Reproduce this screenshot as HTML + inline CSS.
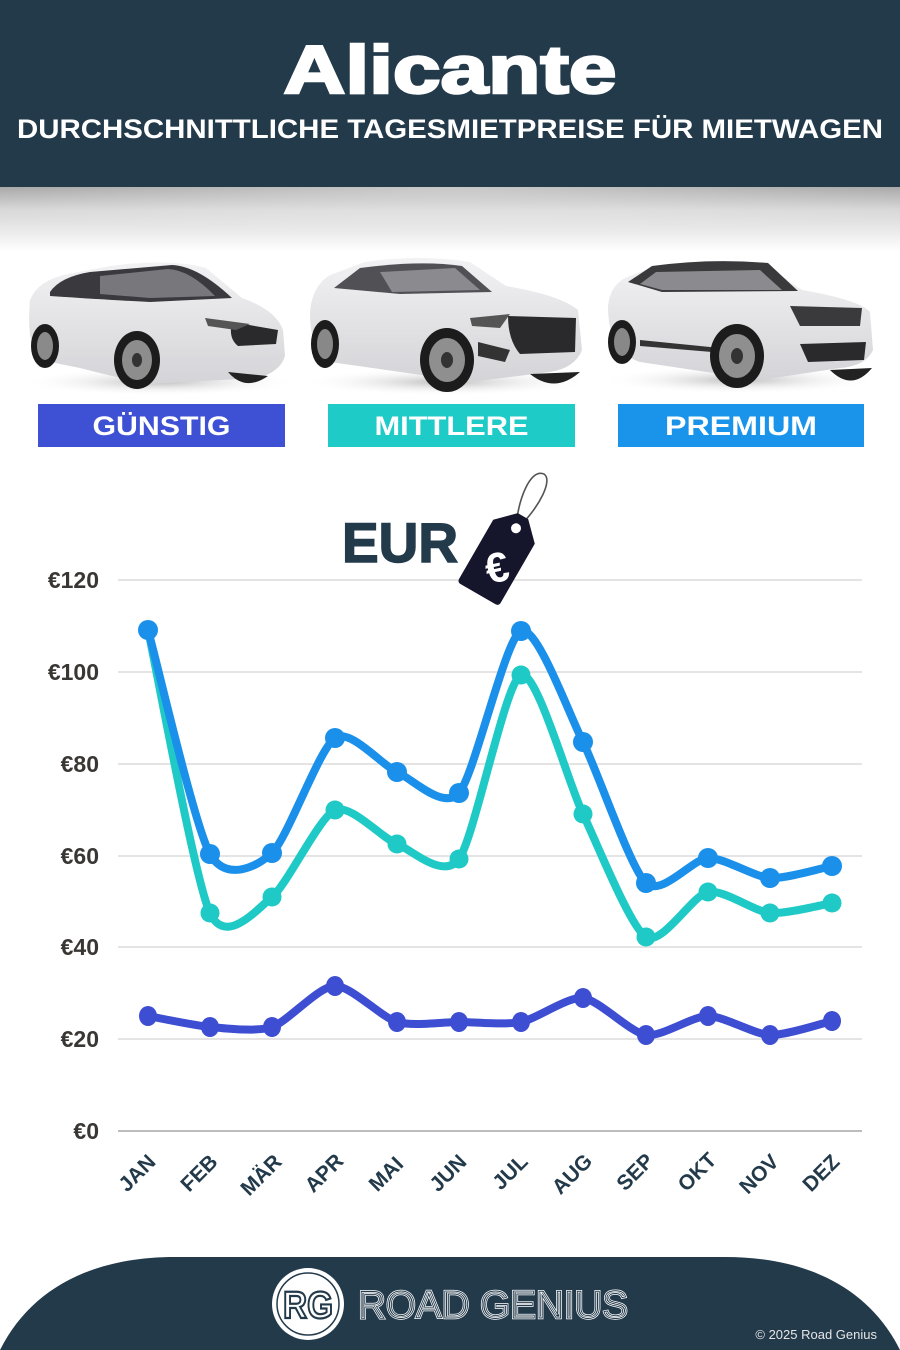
<!DOCTYPE html>
<html>
<head>
<meta charset="utf-8">
<style>
html,body{margin:0;padding:0;background:#fff;}
svg{display:block;}
text{font-family:"Liberation Sans",sans-serif;}
</style>
</head>
<body>
<svg width="900" height="1350" viewBox="0 0 900 1350" xmlns="http://www.w3.org/2000/svg">
<defs>
<linearGradient id="shadow" x1="0" y1="0" x2="0" y2="1">
<stop offset="0" stop-color="#9c9c9c"/>
<stop offset="0.35" stop-color="#d6d6d6"/>
<stop offset="1" stop-color="#ffffff"/>
</linearGradient>
<radialGradient id="shadowEdge" cx="0.5" cy="0" r="0.7">
<stop offset="0" stop-color="#ffffff" stop-opacity="0.45"/>
<stop offset="1" stop-color="#ffffff" stop-opacity="0"/>
</radialGradient>
<radialGradient id="ground" cx="0.5" cy="0.5" r="0.5">
<stop offset="0" stop-color="#bdbdbd"/>
<stop offset="1" stop-color="#ffffff" stop-opacity="0"/>
</radialGradient>
<linearGradient id="body" x1="0" y1="0" x2="0" y2="1">
<stop offset="0" stop-color="#f2f2f4"/>
<stop offset="1" stop-color="#d4d4d8"/>
</linearGradient>
</defs>

<!-- Header -->
<rect x="0" y="0" width="900" height="187" fill="#233a4b"/>
<rect x="0" y="187" width="900" height="65" fill="url(#shadow)"/>
<rect x="0" y="187" width="900" height="65" fill="url(#shadowEdge)"/>
<text x="450" y="93" text-anchor="middle" font-size="68" font-weight="bold" fill="#fff" stroke="#fff" stroke-width="2.5" textLength="333" lengthAdjust="spacingAndGlyphs">Alicante</text>
<text x="450" y="138" text-anchor="middle" font-size="27" font-weight="bold" fill="#fff" textLength="866" lengthAdjust="spacingAndGlyphs">DURCHSCHNITTLICHE TAGESMIETPREISE FÜR MIETWAGEN</text>

<!-- Car 1 -->
<ellipse cx="160" cy="382" rx="140" ry="14" fill="url(#ground)"/>
<path d="M30,300 Q38,280 68,274 L110,266 Q170,258 206,268 L242,298 Q276,310 283,330 L285,356 Q280,372 258,378 L150,384 Q118,378 80,368 L40,360 Q26,345 30,300 Z" fill="url(#body)"/>
<path d="M50,292 Q60,277 90,272 L172,265 Q198,266 232,298 L150,302 Q110,300 50,296 Z" fill="#3a3a3e"/>
<path d="M100,276 L168,269 Q190,270 215,296 L150,298 L100,294 Z" fill="#77777c"/>
<path d="M232,322 L278,330 L276,344 L238,346 Q228,338 232,322 Z" fill="#2a2a2c"/>
<path d="M205,318 L250,324 L236,330 L208,326 Z" fill="#555"/>
<ellipse cx="45" cy="346" rx="14" ry="22" fill="#1c1c1c"/>
<ellipse cx="45" cy="346" rx="8" ry="14" fill="#8a8a8a"/>
<ellipse cx="137" cy="360" rx="23" ry="29" fill="#1c1c1c"/>
<ellipse cx="137" cy="360" rx="15" ry="20" fill="#8d8d8d"/>
<ellipse cx="137" cy="360" rx="5" ry="7" fill="#333"/>
<path d="M228,372 Q245,392 268,376 Z" fill="#222"/>

<!-- Car 2 -->
<ellipse cx="445" cy="382" rx="145" ry="14" fill="url(#ground)"/>
<path d="M310,312 Q312,286 330,275 L365,262 Q420,254 470,262 L506,286 Q560,295 578,310 L582,350 Q575,368 550,372 L470,382 L330,362 Q310,352 310,312 Z" fill="url(#body)"/>
<path d="M334,288 L360,268 Q420,260 462,266 L492,292 L400,294 Z" fill="#505055"/>
<path d="M380,272 L455,268 L480,290 L392,292 Z" fill="#8a8a8f"/>
<path d="M508,316 L576,318 L575,352 L520,354 Q508,340 508,316 Z" fill="#2a2a2c"/>
<path d="M470,318 L510,314 L500,328 L472,326 Z" fill="#555"/>
<path d="M478,342 L510,350 L505,362 L478,356 Z" fill="#333"/>
<ellipse cx="325" cy="344" rx="14" ry="24" fill="#1c1c1c"/>
<ellipse cx="325" cy="344" rx="8" ry="15" fill="#888"/>
<ellipse cx="447" cy="360" rx="27" ry="32" fill="#1c1c1c"/>
<ellipse cx="447" cy="360" rx="18" ry="22" fill="#8f8f8f"/>
<ellipse cx="447" cy="360" rx="6" ry="8" fill="#333"/>
<path d="M530,374 Q555,394 580,372 Z" fill="#222"/>

<!-- Car 3 -->
<ellipse cx="740" cy="380" rx="140" ry="14" fill="url(#ground)"/>
<path d="M608,306 Q610,286 625,278 L650,268 Q710,260 765,265 L802,290 Q860,300 870,312 L873,350 Q866,366 840,368 L760,380 L640,362 Q608,352 608,306 Z" fill="url(#body)"/>
<path d="M628,282 L652,266 Q710,258 768,263 L798,291 L662,292 Z" fill="#3a3a3c"/>
<path d="M640,284 L656,272 L760,270 L782,290 L662,290 Z" fill="#8a8a8f"/>
<path d="M790,306 L862,308 L860,326 L800,326 Z" fill="#3a3a3c"/>
<path d="M800,344 L866,342 L864,360 L808,362 Z" fill="#2a2a2c"/>
<path d="M640,340 L760,352 L760,356 L640,346 Z" fill="#333"/>
<ellipse cx="622" cy="342" rx="14" ry="22" fill="#1c1c1c"/>
<ellipse cx="622" cy="342" rx="8" ry="14" fill="#888"/>
<ellipse cx="737" cy="356" rx="27" ry="32" fill="#1c1c1c"/>
<ellipse cx="737" cy="356" rx="18" ry="22" fill="#8f8f8f"/>
<ellipse cx="737" cy="356" rx="6" ry="8" fill="#333"/>
<path d="M830,370 Q852,392 872,368 Z" fill="#222"/>

<!-- Category buttons -->
<rect x="38" y="404" width="247" height="43" fill="#3e50d3"/>
<text x="161.5" y="435" text-anchor="middle" font-size="27" font-weight="bold" fill="#fff" textLength="138" lengthAdjust="spacingAndGlyphs">GÜNSTIG</text>
<rect x="328" y="404" width="247" height="43" fill="#1fcbc6"/>
<text x="451.5" y="435" text-anchor="middle" font-size="27" font-weight="bold" fill="#fff" textLength="154" lengthAdjust="spacingAndGlyphs">MITTLERE</text>
<rect x="618" y="404" width="246" height="43" fill="#1994ea"/>
<text x="741" y="435" text-anchor="middle" font-size="27" font-weight="bold" fill="#fff" textLength="152" lengthAdjust="spacingAndGlyphs">PREMIUM</text>

<!-- Gridlines -->
<g stroke="#dcdcdc" stroke-width="1.5">
<line x1="118" y1="580" x2="862" y2="580"/>
<line x1="118" y1="672" x2="862" y2="672"/>
<line x1="118" y1="764" x2="862" y2="764"/>
<line x1="118" y1="856" x2="862" y2="856"/>
<line x1="118" y1="947" x2="862" y2="947"/>
<line x1="118" y1="1039" x2="862" y2="1039"/>
</g>
<line x1="118" y1="1131" x2="862" y2="1131" stroke="#bdbdbd" stroke-width="2"/>

<!-- EUR label and tag -->
<text x="342" y="562" font-size="56" font-weight="bold" fill="#233a4b" stroke="#233a4b" stroke-width="1.5" textLength="116" lengthAdjust="spacingAndGlyphs">EUR</text>
<path d="M516,528 C518,500 530,468 544,474 C553,480 540,506 519,527" fill="none" stroke="#555" stroke-width="1.6"/>
<g transform="translate(500,556) rotate(30)">
<path d="M-24,40 Q-24,44 -20,44 L20,44 Q24,44 24,40 L24,-28 L6,-46 L-6,-46 L-24,-28 Z" fill="#15152b"/>
<circle cx="0" cy="-32" r="5" fill="#fff"/>
</g>
<text x="497" y="582" text-anchor="middle" font-size="42" font-weight="bold" fill="#fff" transform="rotate(-12 497 568)">€</text>

<!-- Y labels -->
<g font-size="23" font-weight="bold" fill="#3a3633" text-anchor="end">
<text x="99" y="588">€120</text>
<text x="99" y="680">€100</text>
<text x="99" y="772">€80</text>
<text x="99" y="864">€60</text>
<text x="99" y="955">€40</text>
<text x="99" y="1047">€20</text>
<text x="99" y="1139">€0</text>
</g>

<!-- Series: budget -->
<path d="M148,1016 C156,1017.4 194.5,1025.6 210,1027 C225.5,1028.4 256.5,1032.1 272,1027 C287.5,1021.9 319.5,985.4 335,986 C350.5,985.4 381.5,1017.5 397,1022 C412.5,1026.5 443.5,1022 459,1022 C474.5,1022 505.5,1025 521,1022 C536.5,1019 567.5,996.4 583,998 C598.5,999.6 630.5,1032.7 646,1035 C661.5,1037.3 692.5,1016 708,1016 C723.5,1016 754.5,1034.4 770,1035 C785.5,1035.6 824,1022.8 832,1021" fill="none" stroke="#3d4ed2" stroke-width="8" stroke-linecap="round"/>
<g fill="#3d4ed2">
<ellipse cx="148" cy="1016" rx="9" ry="10"/><ellipse cx="210" cy="1027" rx="9" ry="10"/><ellipse cx="272" cy="1027" rx="9" ry="10"/><ellipse cx="335" cy="986" rx="9" ry="10"/><ellipse cx="397" cy="1022" rx="9" ry="10"/><ellipse cx="459" cy="1022" rx="9" ry="10"/><ellipse cx="521" cy="1022" rx="9" ry="10"/><ellipse cx="583" cy="998" rx="9" ry="10"/><ellipse cx="646" cy="1035" rx="9" ry="10"/><ellipse cx="708" cy="1016" rx="9" ry="10"/><ellipse cx="770" cy="1035" rx="9" ry="10"/><ellipse cx="832" cy="1021" rx="9" ry="10"/>
</g>

<!-- Series: mid -->
<path d="M148,630 C156,665.4 194.5,879.6 210,913 C225.5,946.4 256.5,909.9 272,897 C287.5,884.1 319.5,816.6 335,810 C350.5,803.4 381.5,837.9 397,844 C412.5,850.1 443.5,880.1 459,859 C474.5,837.9 505.5,680.6 521,675 C536.5,669.4 567.5,781.2 583,814 C598.5,846.8 630.5,927.2 646,937 C661.5,946.8 692.5,895 708,892 C723.5,889 754.5,911.6 770,913 C785.5,914.4 824,904.3 832,903" fill="none" stroke="#1fcac6" stroke-width="8" stroke-linecap="round"/>
<g fill="#1fcac6">
<circle cx="210" cy="913" r="9.5"/><circle cx="272" cy="897" r="9.5"/><circle cx="335" cy="810" r="9.5"/><circle cx="397" cy="844" r="9.5"/><circle cx="459" cy="859" r="9.5"/><circle cx="521" cy="675" r="9.5"/><circle cx="583" cy="814" r="9.5"/><circle cx="646" cy="937" r="9.5"/><circle cx="708" cy="892" r="9.5"/><circle cx="770" cy="913" r="9.5"/><circle cx="832" cy="903" r="9.5"/>
</g>

<!-- Series: premium -->
<path d="M148,630 C156,658 194.5,826.1 210,854 C225.5,881.9 256.5,867.5 272,853 C287.5,838.5 319.5,748.1 335,738 C350.5,727.9 381.5,765.1 397,772 C412.5,778.9 443.5,810.6 459,793 C474.5,775.4 505.5,637.4 521,631 C536.5,624.6 567.5,710.5 583,742 C598.5,773.5 630.5,868.5 646,883 C661.5,897.5 692.5,858.6 708,858 C723.5,857.4 754.5,877 770,878 C785.5,879 824,867.5 832,866" fill="none" stroke="#1a90ea" stroke-width="8" stroke-linecap="round"/>
<g fill="#1a90ea">
<circle cx="148" cy="630" r="10"/><circle cx="210" cy="854" r="10"/><circle cx="272" cy="853" r="10"/><circle cx="335" cy="738" r="10"/><circle cx="397" cy="772" r="10"/><circle cx="459" cy="793" r="10"/><circle cx="521" cy="631" r="10"/><circle cx="583" cy="742" r="10"/><circle cx="646" cy="883" r="10"/><circle cx="708" cy="858" r="10"/><circle cx="770" cy="878" r="10"/><circle cx="832" cy="866" r="10"/>
</g>

<!-- X labels -->
<g font-size="21" font-weight="bold" fill="#233a4b" text-anchor="middle">
<text transform="translate(142,1178) rotate(-45)">JAN</text>
<text transform="translate(204,1178) rotate(-45)">FEB</text>
<text transform="translate(266,1180) rotate(-45)">MÄR</text>
<text transform="translate(329,1178) rotate(-45)">APR</text>
<text transform="translate(391,1179) rotate(-45)">MAI</text>
<text transform="translate(453,1178) rotate(-45)">JUN</text>
<text transform="translate(515,1177) rotate(-45)">JUL</text>
<text transform="translate(577,1179) rotate(-45)">AUG</text>
<text transform="translate(640,1177) rotate(-45)">SEP</text>
<text transform="translate(702,1177) rotate(-45)">OKT</text>
<text transform="translate(764,1179) rotate(-45)">NOV</text>
<text transform="translate(826,1178) rotate(-45)">DEZ</text>
</g>

<!-- Footer -->
<path d="M0,1350 C30,1290 90,1257 175,1257 L725,1257 C810,1257 870,1290 900,1350 Z" fill="#233a4b"/>
<circle cx="308" cy="1304" r="36" fill="#fff"/>
<circle cx="308" cy="1304" r="31" fill="none" stroke="#233a4b" stroke-width="1.5"/>
<text x="308" y="1318" text-anchor="middle" font-size="38" font-weight="bold" fill="#fff" stroke="#233a4b" stroke-width="2.2" textLength="50" lengthAdjust="spacingAndGlyphs">RG</text>
<text x="358" y="1318" font-size="39" fill="#233a4b" stroke="#ffffff" stroke-width="2.4" textLength="270" lengthAdjust="spacingAndGlyphs">ROAD GENIUS</text>
<text x="358" y="1318" font-size="39" fill="none" stroke="#233a4b" stroke-width="0.9" textLength="270" lengthAdjust="spacingAndGlyphs">ROAD GENIUS</text>
<text x="877" y="1339" text-anchor="end" font-size="13" fill="#e6e6e6">© 2025 Road Genius</text>
</svg>
</body>
</html>
